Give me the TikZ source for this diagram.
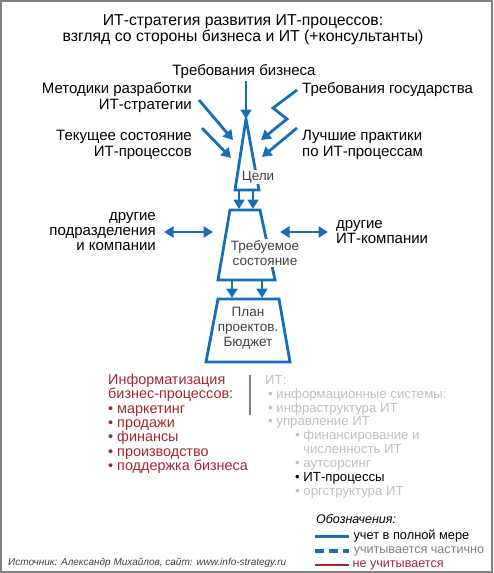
\documentclass[tikz,border=0pt]{standalone}
\usepackage{fontspec}
\setmainfont{Liberation Sans}
\usetikzlibrary{arrows.meta}
\definecolor{stratblue}{RGB}{22,110,184}
\definecolor{stratred}{RGB}{165,38,44}
\definecolor{stratgray}{RGB}{192,192,192}
\definecolor{capgray}{RGB}{64,64,64}
\begin{document}
\begin{tikzpicture}[x=1pt,y=-1pt,
  flow/.style={stratblue,line width=2.8pt,-{Triangle[length=9.5pt,width=11pt]}},
  twoway/.style={stratblue,line width=2.8pt,{Triangle[length=9.5pt,width=11pt]}-{Triangle[length=9.5pt,width=11pt]}},
  outline/.style={stratblue,line width=2.8pt,line join=miter},
  lbl/.style={font=\fontsize{15}{16}\selectfont,inner sep=0pt},
  inside/.style={text=capgray,fill=white,font=\fontsize{13.5}{15}\selectfont,inner sep=1pt,align=center},
  listtext/.style={inner sep=0pt,align=left,anchor=north west}]
\useasboundingbox (0,0) rectangle (493,573);
\draw[gray,line width=1.5pt] (1,1) rectangle (492,572);
% title
\node[lbl,align=center,font=\fontsize{15.8}{16}\selectfont] (title) at (243,30) {ИТ-стратегия развития ИТ-процессов:\\взгляд со стороны бизнеса и ИТ (+консультанты)};
% inputs
\node[lbl] (reqbiz) at (244,72) {Требования бизнеса};
\node[lbl,align=right,anchor=east] (method) at (192,98) {Методики разработки\\ИТ-стратегии};
\node[lbl,align=right,anchor=east] (current) at (192,145) {Текущее состояние\\ИТ-процессов};
\node[lbl,anchor=west] (reqgov) at (302,90) {Требования государства};
\node[lbl,align=left,anchor=west] (best) at (302,145) {Лучшие практики\\по ИТ-процессам};
\node[lbl,align=right,anchor=east,font=\fontsize{15}{15}\selectfont] (otherdep) at (156,232) {другие\\подразделения\\и компании};
\node[lbl,align=left,anchor=west,font=\fontsize{15}{15}\selectfont] (otherit) at (336,232) {другие\\ИТ-компании};
% shapes
\coordinate (apex) at (246,119);
\draw[outline] (apex) -- (235,190) -- (259,190) -- cycle;
\draw[outline] (230,210) -- (260,210) -- (275,280) -- (218,280) -- cycle;
\draw[outline] (218,299) -- (279,299) -- (290,362) -- (206,362) -- cycle;
\node[inside] (goals) at (258,177) {Цели};
\node[inside] (target) at (265,253) {Требуемое\\состояние};
\node[inside,fill=none] (plan) at (248,328) {План\\проектов.\\Бюджет};
% arrows in
\coordinate (reqbizA) at (246,81);
\coordinate (methodA) at (199,100);
\coordinate (methodB) at (233,140);
\coordinate (currentA) at (202,128);
\coordinate (currentB) at (231,158);
\coordinate (reqgovA) at (297,90);
\coordinate (reqgovB) at (261,140);
\coordinate (bestA) at (297,128);
\coordinate (bestB) at (262,157);
\draw[flow] (reqbizA) -- (apex);
\draw[flow] (methodA) -- (methodB);
\draw[flow] (currentA) -- (currentB);
\draw[flow] (reqgovA) -- (273,108) -- (287,119) -- (reqgovB);
\draw[flow] (bestA) -- (bestB);
% goals -> target -> plan
\foreach \xx in {239,253} \draw[flow] (\xx,190) -- (\xx,209);
\foreach \xx in {232,262} \draw[flow] (\xx,280) -- (\xx,298);
% exchange
\coordinate (depA) at (164,232);
\coordinate (depB) at (213,232);
\coordinate (itA) at (280,232);
\coordinate (itB) at (328,232);
\draw[twoway] (depA) -- (depB);
\draw[twoway] (itA) -- (itB);
% lists
\node[listtext,text=stratred,font=\fontsize{14.4}{14.3}\selectfont] (bizlist) at (108,374) {Информатизация\\бизнес-процессов:\\• маркетинг\\• продажи\\• финансы\\• производство\\• поддержка бизнеса};
\draw[gray,line width=2.5pt] (250,375) -- (250,415);
\node[listtext,text=stratgray,font=\fontsize{13.2}{13.9}\selectfont] (itlist) at (265,375) {ИТ:\\\hspace{3pt}• информационные системы:\\\hspace{3pt}• инфраструктура ИТ\\\hspace{3pt}• управление ИТ\\\hspace{30pt}• финансирование и\\\hspace{38pt}численность ИТ\\\hspace{30pt}• аутсорсинг\\\hspace{30pt}\textcolor{black}{• ИТ-процессы}\\\hspace{30pt}• оргструктура ИТ};
% legend
\node[anchor=west,inner sep=0pt,font=\fontsize{12.5}{15}\selectfont\itshape] (legend) at (316,519) {Обозначения:};
\draw[stratblue,line width=3pt] (315,536) -- (349,536) node[anchor=west,inner sep=0pt,text=black,font=\fontsize{12.8}{15}\selectfont,xshift=3pt] (full) {учет в полной мере};
\draw[stratblue,line width=3.5pt,dash pattern=on 9pt off 5pt] (315,551) -- (349,551) node[anchor=west,inner sep=0pt,text=gray,font=\fontsize{12.6}{15}\selectfont,xshift=3pt] (part) {учитывается частично};
\draw[stratred,line width=1.2pt] (315,565) -- (349,565) node[anchor=west,inner sep=0pt,text=stratred,font=\fontsize{12.6}{15}\selectfont,xshift=3pt] (none) {не учитывается};
\node[anchor=west,inner sep=0pt,text=capgray,font=\fontsize{10}{12}\selectfont\itshape] (source) at (8,563) {Источник: Александр Михайлов, сайт: www.info-strategy.ru};
\end{tikzpicture}
\end{document}
